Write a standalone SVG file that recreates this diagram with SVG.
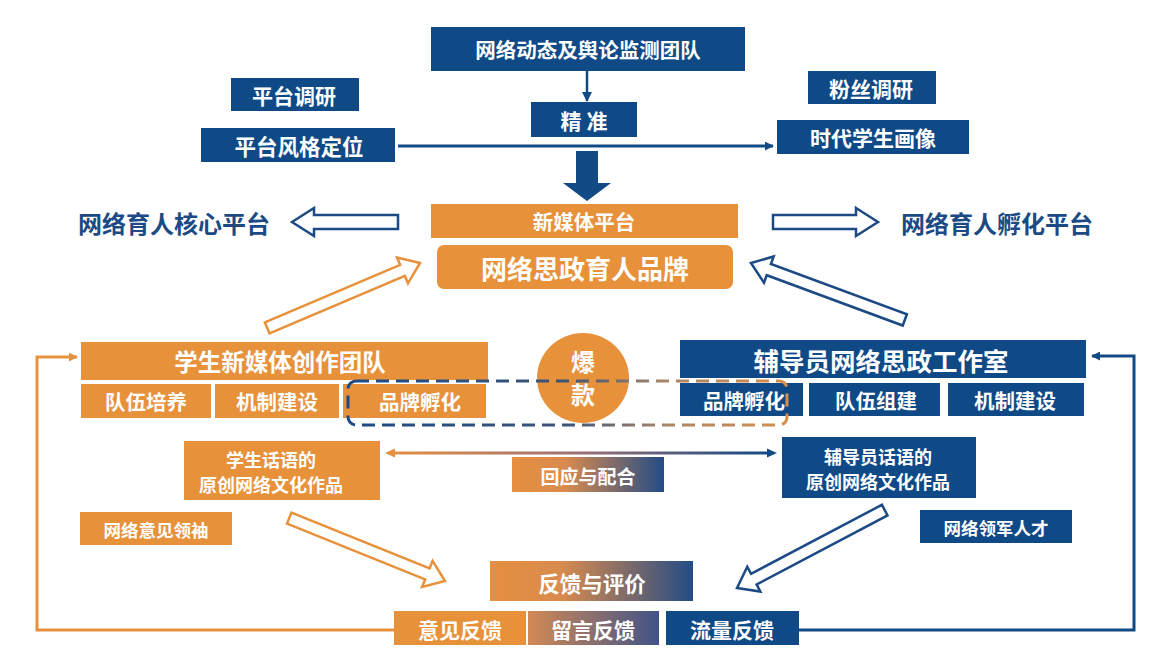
<svg xmlns="http://www.w3.org/2000/svg" width="1169" height="663" viewBox="0 0 1169 663">
<defs>
<linearGradient id="gOB" x1="0" y1="0" x2="1" y2="0">
<stop offset="0" stop-color="#E58F40"/><stop offset="0.35" stop-color="#D98B4E"/><stop offset="1" stop-color="#234C86"/>
</linearGradient>
<linearGradient id="gMid" x1="0" y1="0" x2="1" y2="0">
<stop offset="0" stop-color="#D28A55"/><stop offset="1" stop-color="#3F5388"/>
</linearGradient>
<linearGradient id="gLine" gradientUnits="userSpaceOnUse" x1="388" y1="0" x2="773" y2="0">
<stop offset="0" stop-color="#E58F40"/><stop offset="0.5" stop-color="#9A7075"/><stop offset="1" stop-color="#124A86"/>
</linearGradient>
<linearGradient id="gDash" gradientUnits="userSpaceOnUse" x1="347" y1="0" x2="787" y2="0">
<stop offset="0" stop-color="#1B4A85"/><stop offset="0.5" stop-color="#3E5478"/><stop offset="0.72" stop-color="#A98667"/><stop offset="1" stop-color="#D68E4C"/>
</linearGradient>
<marker id="mBlue" viewBox="0 0 10 10" refX="9" refY="5" markerWidth="4" markerHeight="4" orient="auto-start-reverse" markerUnits="strokeWidth">
<path d="M0,0 L10,5 L0,10 z" fill="#124A86"/>
</marker>
<marker id="mBlueS" viewBox="0 0 10 10" refX="9" refY="5" markerWidth="3" markerHeight="3" orient="auto-start-reverse" markerUnits="strokeWidth">
<path d="M0,0 L10,5 L0,10 z" fill="#124A86"/>
</marker>
<marker id="mOrS" viewBox="0 0 10 10" refX="9" refY="5" markerWidth="3" markerHeight="3" orient="auto-start-reverse" markerUnits="strokeWidth">
<path d="M0,0 L10,5 L0,10 z" fill="#E58F40"/>
</marker>
</defs>
<style>
text{font-family:"Noto Sans CJK SC","Noto Sans",sans-serif;font-weight:bold;text-anchor:middle;dominant-baseline:central}
.b{fill:#0F4A87}
.o{fill:#E7913B}
.w{fill:#fff}
.t{fill:#1B4A85}
.hb{fill:#fff;stroke:#1B4A85;stroke-width:2.5;stroke-linejoin:miter}
.ho{fill:#fff;stroke:#E7913B;stroke-width:2.5;stroke-linejoin:miter}
.lb{fill:none;stroke:#124A86;stroke-width:3}
.lo{fill:none;stroke:#E7913B;stroke-width:3}
</style>
<rect width="1169" height="663" fill="#fff"/>

<g id="connectors">
<line x1="587" y1="71" x2="587" y2="101" stroke="#124A86" stroke-width="2.5" marker-end="url(#mBlue)"/>
<line x1="398" y1="146" x2="773" y2="146" stroke="#124A86" stroke-width="3" marker-end="url(#mBlueS)"/>
<path d="M576,151 H598 V183 H611 L587,201 L563,183 H576 Z" fill="#124A86"/>
<path class="hb" d="M292,222 L314,208 L314,215 L398,215 L398,229 L314,229 L314,236 Z"/>
<path class="hb" d="M878,222 L856,208 L856,215 L773,215 L773,229 L856,229 L856,236 Z"/>
<path class="ho" transform="translate(420,263) rotate(-23)" d="M0,0 L-19,-14 L-19,-6 L-166,-6 L-166,6 L-19,6 L-19,14 Z"/>
<path class="hb" transform="translate(751,263) rotate(200.3)" d="M0,0 L-19,-14 L-19,-6 L-164,-6 L-164,6 L-19,6 L-19,14 Z"/>
<path class="ho" transform="translate(445,581) rotate(22)" d="M0,0 L-19,-14 L-19,-6 L-168,-6 L-168,6 L-19,6 L-19,14 Z"/>
<path class="hb" transform="translate(737,588) rotate(152.2)" d="M0,0 L-19,-14 L-19,-6 L-167,-6 L-167,6 L-19,6 L-19,14 Z"/>
<path class="lo" d="M394,630 H37 V357 H77" marker-end="url(#mOrS)"/>
<path class="lb" d="M799,630 H1134 V356 H1092" marker-end="url(#mBlueS)"/>
<line x1="392" y1="453" x2="769" y2="453" stroke="url(#gLine)" stroke-width="3"/>
<path d="M385,453 L395,448.5 L395,457.5 Z" fill="#E58F40"/>
<path d="M777,453 L767,448.5 L767,457.5 Z" fill="#124A86"/>
</g>

<g id="n-monitor"><rect class="b" x="431" y="27" width="314" height="44"/><text class="w" x="588" y="49" font-size="20.5">网络动态及舆论监测团队</text></g>
<g id="n-precise"><rect class="b" x="531" y="102" width="106" height="35"/><text class="w" x="584" y="120" font-size="21">精 准</text></g>
<g id="n-research"><rect class="b" x="231" y="78" width="128" height="33"/><text class="w" x="294" y="95" font-size="21">平台调研</text></g>
<g id="n-style"><rect class="b" x="201" y="128" width="194" height="34"/><text class="w" x="299" y="145" font-size="21.5">平台风格定位</text></g>
<g id="n-fans"><rect class="b" x="808" y="71" width="128" height="33"/><text class="w" x="871" y="88" font-size="21">粉丝调研</text></g>
<g id="n-portrait"><rect class="b" x="777" y="120" width="192" height="34"/><text class="w" x="873" y="137" font-size="21">时代学生画像</text></g>
<g id="n-platform"><rect class="o" x="431" y="204" width="307" height="34"/><text class="w" x="584" y="221" font-size="20.5">新媒体平台</text></g>
<g id="n-brand"><rect class="o" x="437" y="245" width="296" height="44" rx="7"/><text class="w" x="585" y="267" font-size="26">网络思政育人品牌</text></g>
<g id="n-core"><text class="t" x="174" y="222" font-size="24">网络育人核心平台</text></g>
<g id="n-incub"><text class="t" x="997" y="222" font-size="24">网络育人孵化平台</text></g>

<g id="n-student-team">
<rect class="o" x="81" y="342" width="407" height="38"/><text class="w" x="280" y="361" font-size="23.5">学生新媒体创作团队</text>
<rect class="o" x="81" y="384" width="130" height="34"/><text class="w" x="146" y="401" font-size="20.5">队伍培养</text>
<rect class="o" x="215" y="384" width="124" height="34"/><text class="w" x="277" y="401" font-size="20.5">机制建设</text>
<rect class="o" x="343" y="384" width="143" height="34"/><text class="w" x="420" y="401" font-size="20.5">品牌孵化</text>
</g>
<g id="n-counselor-studio">
<rect class="b" x="680" y="340" width="406" height="38"/><text class="w" x="881" y="359" font-size="25.5">辅导员网络思政工作室</text>
<rect class="b" x="680" y="383" width="123" height="33"/><text class="w" x="744" y="400" font-size="20.5">品牌孵化</text>
<rect class="b" x="809" y="383" width="131" height="33"/><text class="w" x="876" y="400" font-size="20.5">队伍组建</text>
<rect class="b" x="948" y="383" width="136" height="33"/><text class="w" x="1015" y="400" font-size="20.5">机制建设</text>
</g>
<g id="n-hit">
<ellipse cx="583" cy="378" rx="46" ry="45" fill="#E7913B"/>
<text class="w" x="583" y="360" font-size="24">爆</text>
<text class="w" x="583" y="393" font-size="24">款</text>
</g>
<g id="n-dash"><rect x="348" y="381" width="439" height="44" rx="8" fill="none" stroke="url(#gDash)" stroke-width="3" stroke-dasharray="13,7"/></g>

<g id="n-student-works"><rect class="o" x="184" y="441" width="196" height="59"/><text class="w" x="271" y="459" font-size="18">学生话语的</text><text class="w" x="271" y="484" font-size="18">原创网络文化作品</text></g>
<g id="n-response"><rect x="512" y="457" width="152" height="35" fill="url(#gOB)"/><text class="w" x="588" y="475" font-size="19">回应与配合</text></g>
<g id="n-counselor-works"><rect class="b" x="782" y="437" width="194" height="61"/><text class="w" x="878" y="456" font-size="18">辅导员话语的</text><text class="w" x="878" y="481" font-size="18">原创网络文化作品</text></g>
<g id="n-kol"><rect class="o" x="80" y="512" width="152" height="33"/><text class="w" x="156" y="529" font-size="17.5">网络意见领袖</text></g>
<g id="n-leader"><rect class="b" x="920" y="510" width="152" height="33"/><text class="w" x="996" y="527" font-size="17.5">网络领军人才</text></g>
<g id="n-feedback"><rect x="490" y="561" width="203" height="40" fill="url(#gOB)"/><text class="w" x="592" y="582" font-size="21.5">反馈与评价</text></g>
<g id="n-fb-opinion"><rect class="o" x="394" y="611" width="132" height="34"/><text class="w" x="460" y="629" font-size="21">意见反馈</text></g>
<g id="n-fb-comment"><rect x="528" y="611" width="131" height="34" fill="url(#gMid)"/><text class="w" x="593" y="629" font-size="21">留言反馈</text></g>
<g id="n-fb-traffic"><rect class="b" x="666" y="611" width="133" height="34"/><text class="w" x="732" y="629" font-size="21">流量反馈</text></g>
</svg>
